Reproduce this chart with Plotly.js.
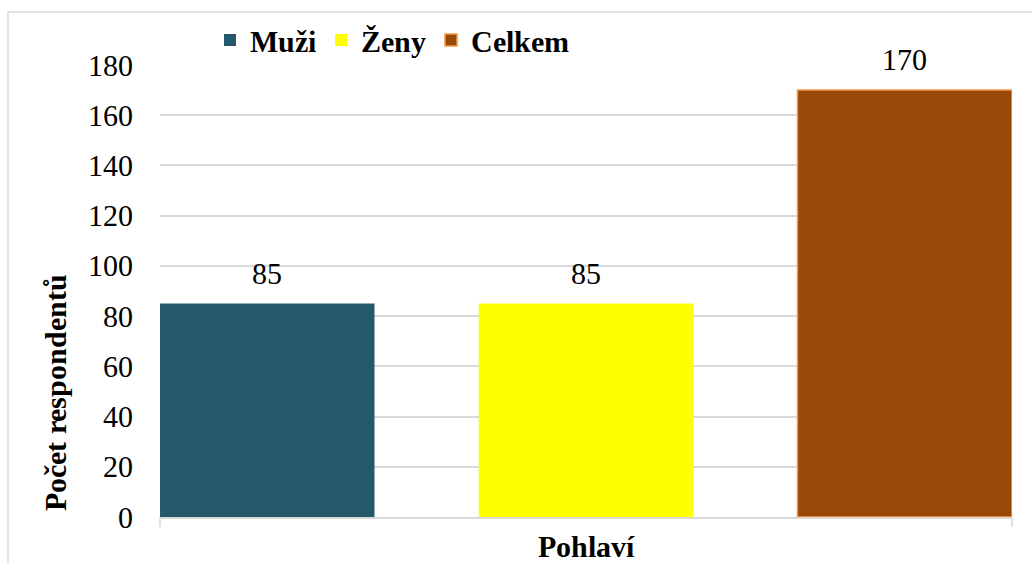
<!DOCTYPE html>
<html>
<head>
<meta charset="utf-8">
<style>
@font-face{font-family:'LSerif';src:local('Liberation Serif'),local('LiberationSerif');font-weight:400;font-style:normal;}
@font-face{font-family:'LSerif';src:local('Liberation Serif Bold'),local('LiberationSerif-Bold');font-weight:700;font-style:normal;}
</style>
<script src="https://cdn.plot.ly/plotly-3.0.1.min.js"></script>
</head>
<body style="margin:0;padding:0;background:#fff">
<div id="chart" style="width:1032px;height:563px"></div>
<script>
const seriesNames = ['Muži', 'Ženy', 'Celkem'];
const seriesValues = [85, 85, 170];
const seriesColors = ['#235968', '#ffff00', '#984807'];
const seriesLines = ['#235968', '#ffff00', '#f79646'];
const yTicks = [0, 20, 40, 60, 80, 100, 120, 140, 160, 180];
const xTitle = 'Pohlaví';
const yTitle = 'Počet respondentů';

const FONT = 'LSerif, "Liberation Serif", Tinos, "Times New Roman", serif';

function build() {
  const traces = seriesNames.map((n, i) => ({
    type: 'bar',
    name: n,
    x: [n],
    y: [seriesValues[i]],
    marker: {color: seriesColors[i], line: {color: seriesLines[i], width: i === 2 ? 1.5 : 0}},
    hoverinfo: 'none'
  }));

  const annotations = seriesNames.map((n, i) => ({
    x: n, y: seriesValues[i], xref: 'x', yref: 'y',
    text: String(seriesValues[i]), showarrow: false,
    yanchor: 'bottom', yshift: 12,
    font: {family: FONT, size: 30, color: '#000'}
  }));

  annotations.push({
    xref: 'paper', yref: 'paper', x: -0.123, y: 0.274,
    text: '<b>' + yTitle + '</b>', textangle: -90, showarrow: false,
    xanchor: 'center', yanchor: 'middle',
    font: {family: FONT, size: 30, color: '#000'}
  });

  const pxX = 1 / 852, pxY = 1 / 452;
  const shapes = [
    {type: 'rect', xref: 'paper', yref: 'paper', x0: -152 * pxX, x1: 1.05, y0: -0.2, y1: 505 * pxY,
     line: {color: '#d9d9d9', width: 1.5}, fillcolor: 'rgba(0,0,0,0)', layer: 'below'},
    {type: 'line', xref: 'paper', yref: 'paper', x0: 0, x1: 0, y0: 0, y1: -10 * pxY, line: {color: '#d9d9d9', width: 1.5}},
    {type: 'line', xref: 'paper', yref: 'paper', x0: 1, x1: 1, y0: 0, y1: -10 * pxY, line: {color: '#d9d9d9', width: 1.5}}
  ];

  const layout = {
    width: 1032, height: 563,
    margin: {l: 160, r: 20, t: 65, b: 46},
    paper_bgcolor: '#fff', plot_bgcolor: '#fff',
    font: {family: FONT, color: '#000'},
    barmode: 'relative',
    bargap: 0.327,
    showlegend: true,
    hovermode: false,
    legend: {
      orientation: 'h', x: 50 * pxX, y: 1 + 51 * pxY, xanchor: 'left', yanchor: 'top',
      font: {family: FONT, size: 30, color: '#000', weight: 'bold'},
      itemwidth: 30, tracegroupgap: 0, bgcolor: 'rgba(0,0,0,0)'
    },
    xaxis: {
      type: 'category', categoryorder: 'array', categoryarray: seriesNames,
      range: [-0.3365, 2.3365],
      showticklabels: false, ticks: '', showgrid: false, zeroline: false,
      showline: true, linecolor: '#d9d9d9', linewidth: 1.5,
      title: {text: '<b>' + xTitle + '</b>', standoff: 34, font: {family: FONT, size: 30, color: '#000'}},
      automargin: false, fixedrange: true
    },
    yaxis: {
      range: [0, 180], tickvals: yTicks, ticktext: yTicks.map(String),
      showgrid: true, gridcolor: '#d9d9d9', gridwidth: 1.5,
      zeroline: false, showline: false, ticks: '',
      ticklabelstandoff: 26,
      tickfont: {family: FONT, size: 30, color: '#000'},
      automargin: false, fixedrange: true
    },
    annotations: annotations,
    shapes: shapes
  };
  return {traces, layout};
}

function draw() {
  const b = build();
  return Plotly.newPlot('chart', b.traces, b.layout, {displayModeBar: false});
}

draw();
if (document.fonts && document.fonts.load) {
  Promise.all([
    document.fonts.load('30px LSerif', 'Muži 0123456789'),
    document.fonts.load('bold 30px LSerif', 'Muži Ženy Celkem Pohlaví Počet respondentů')
  ]).then(() => { Plotly.purge('chart'); return draw(); }).catch(() => {});
}
</script>
</body>
</html>
